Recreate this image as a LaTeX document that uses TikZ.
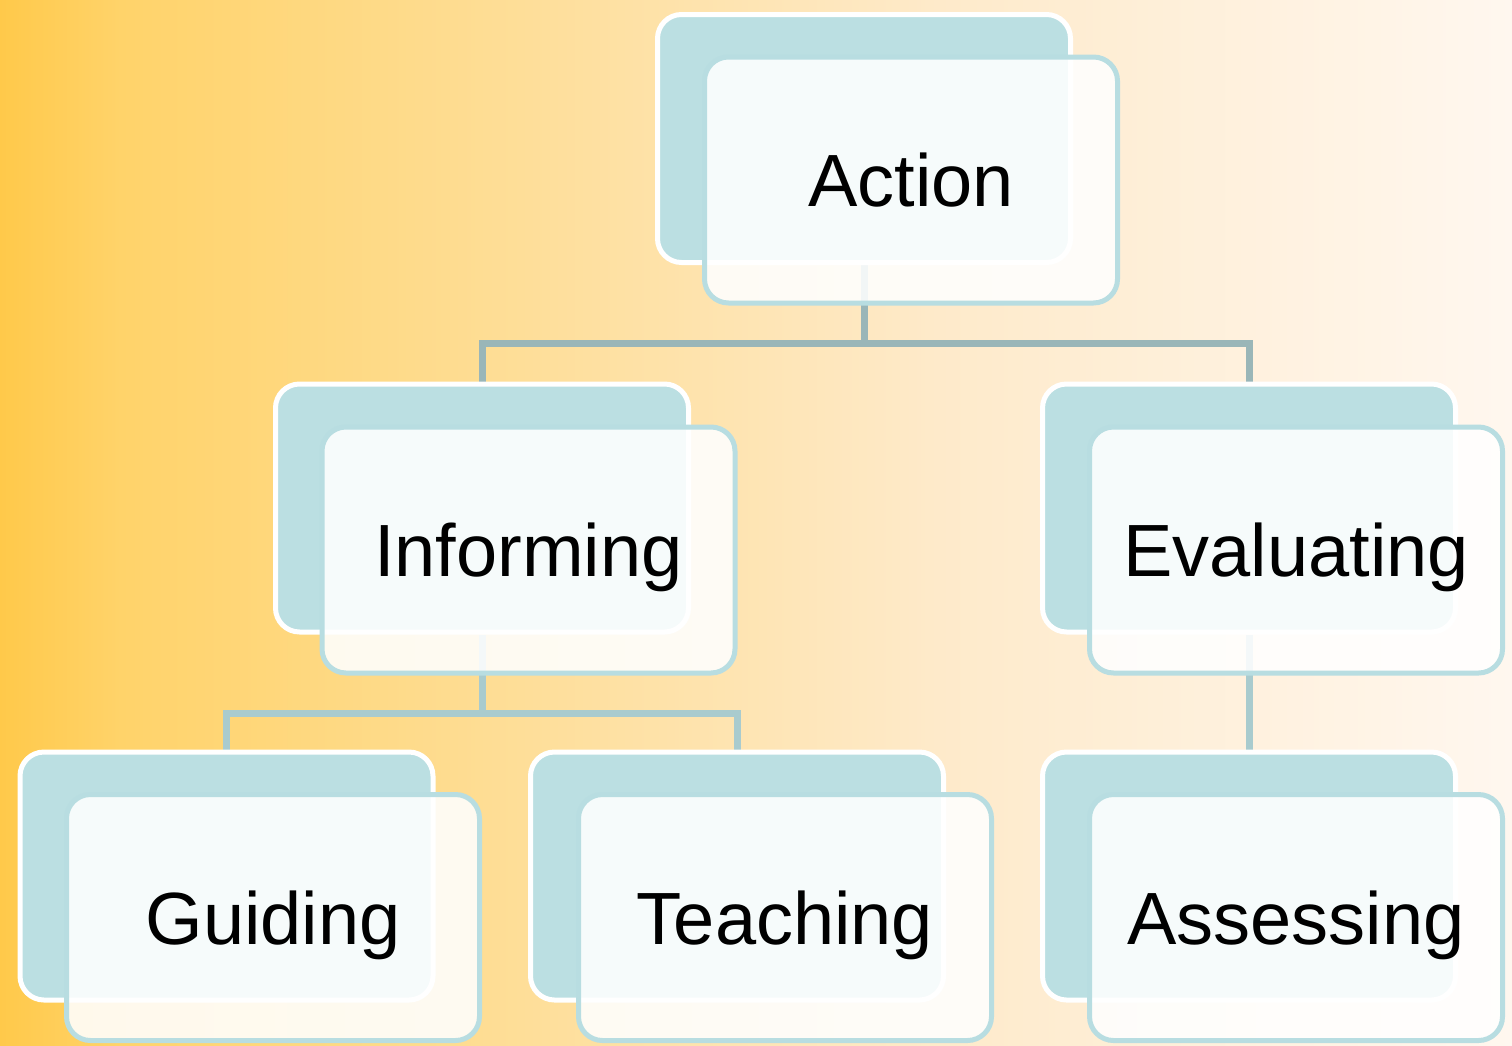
\documentclass[tikz,border=0pt]{standalone}
\usepackage{fontspec}
\setmainfont{Liberation Sans}
\pgfdeclarelayer{bg}
\pgfdeclarelayer{conn}
\pgfsetlayers{bg,conn,main}
\definecolor{backfill}{HTML}{BBDFE2}
\definecolor{frontline}{HTML}{B8DDE1}
\definecolor{connAcol}{HTML}{9AB6B8}
\definecolor{connBcol}{HTML}{A9CBCE}
\definecolor{gA}{HTML}{FFC94A}
\definecolor{gB}{HTML}{FFD36A}
\definecolor{gC}{HTML}{FEDC90}
\definecolor{gD}{HTML}{FEEACA}
\definecolor{gE}{HTML}{FFF7EF}
\pgfdeclarehorizontalshading{bgshade}{100bp}{color(0bp)=(gA); color(25bp)=(gA); color(29bp)=(gB); color(40bp)=(gC); color(56bp)=(gD); color(75bp)=(gE); color(100bp)=(gE)}
\begin{document}
\begin{tikzpicture}[x=1pt,y=-1pt,
  backbox/.style={draw=white,line width=5pt,fill=backfill,rounded corners=24pt,
    minimum width=413pt,minimum height=248pt,inner sep=0pt},
  frontbox/.style={draw=frontline,line width=5pt,fill=white,fill opacity=0.88,
    text opacity=1,draw opacity=1,rounded corners=24pt,minimum width=413pt,minimum height=246pt,
    inner sep=0pt,font=\fontsize{74}{80}\selectfont,text height=53pt,text depth=0pt},
  linkA/.style={draw=connAcol,line width=7pt},
  linkB/.style={draw=connBcol,line width=7pt}]
\useasboundingbox (0,0) rectangle (1512,1045);
\begin{pgfonlayer}{bg}
\shade[shading=bgshade] (0,0) rectangle (1512,1045);
\end{pgfonlayer}
% back boxes
\node[backbox] (actB) at (864,138.5) {};
\node[backbox] (infB) at (482,508) {};
\node[backbox] (evaB) at (1249,508) {};
\node[backbox] (guiB) at (226.5,876) {};
\node[backbox] (teaB) at (737,876) {};
\node[backbox] (assB) at (1249,876) {};
% front boxes
\node[frontbox] (act) at (911,180) {Action};
\node[frontbox] (inf) at (528.5,550) {Informing};
\node[frontbox] (eva) at (1296,550) {Evaluating};
\node[frontbox] (gui) at (273,917.5) {Guiding};
\node[frontbox] (tea) at (785,917.5) {Teaching};
\node[frontbox] (ass) at (1296,917.5) {Assessing};
% connectors
\coordinate (actJ) at (864,343);
\coordinate (infJ) at (482,713);
\begin{pgfonlayer}{conn}
\draw[linkA] (actB.south) -- (actJ) -| (infB.north);
\draw[linkA] (actJ) -| (evaB.north);
\draw[linkB] (infB.south) -- (infJ) -| (guiB.north);
\draw[linkB] (infJ) -| (teaB.north);
\draw[linkB] (evaB.south) -- (assB.north);
\end{pgfonlayer}
\end{tikzpicture}
\end{document}
